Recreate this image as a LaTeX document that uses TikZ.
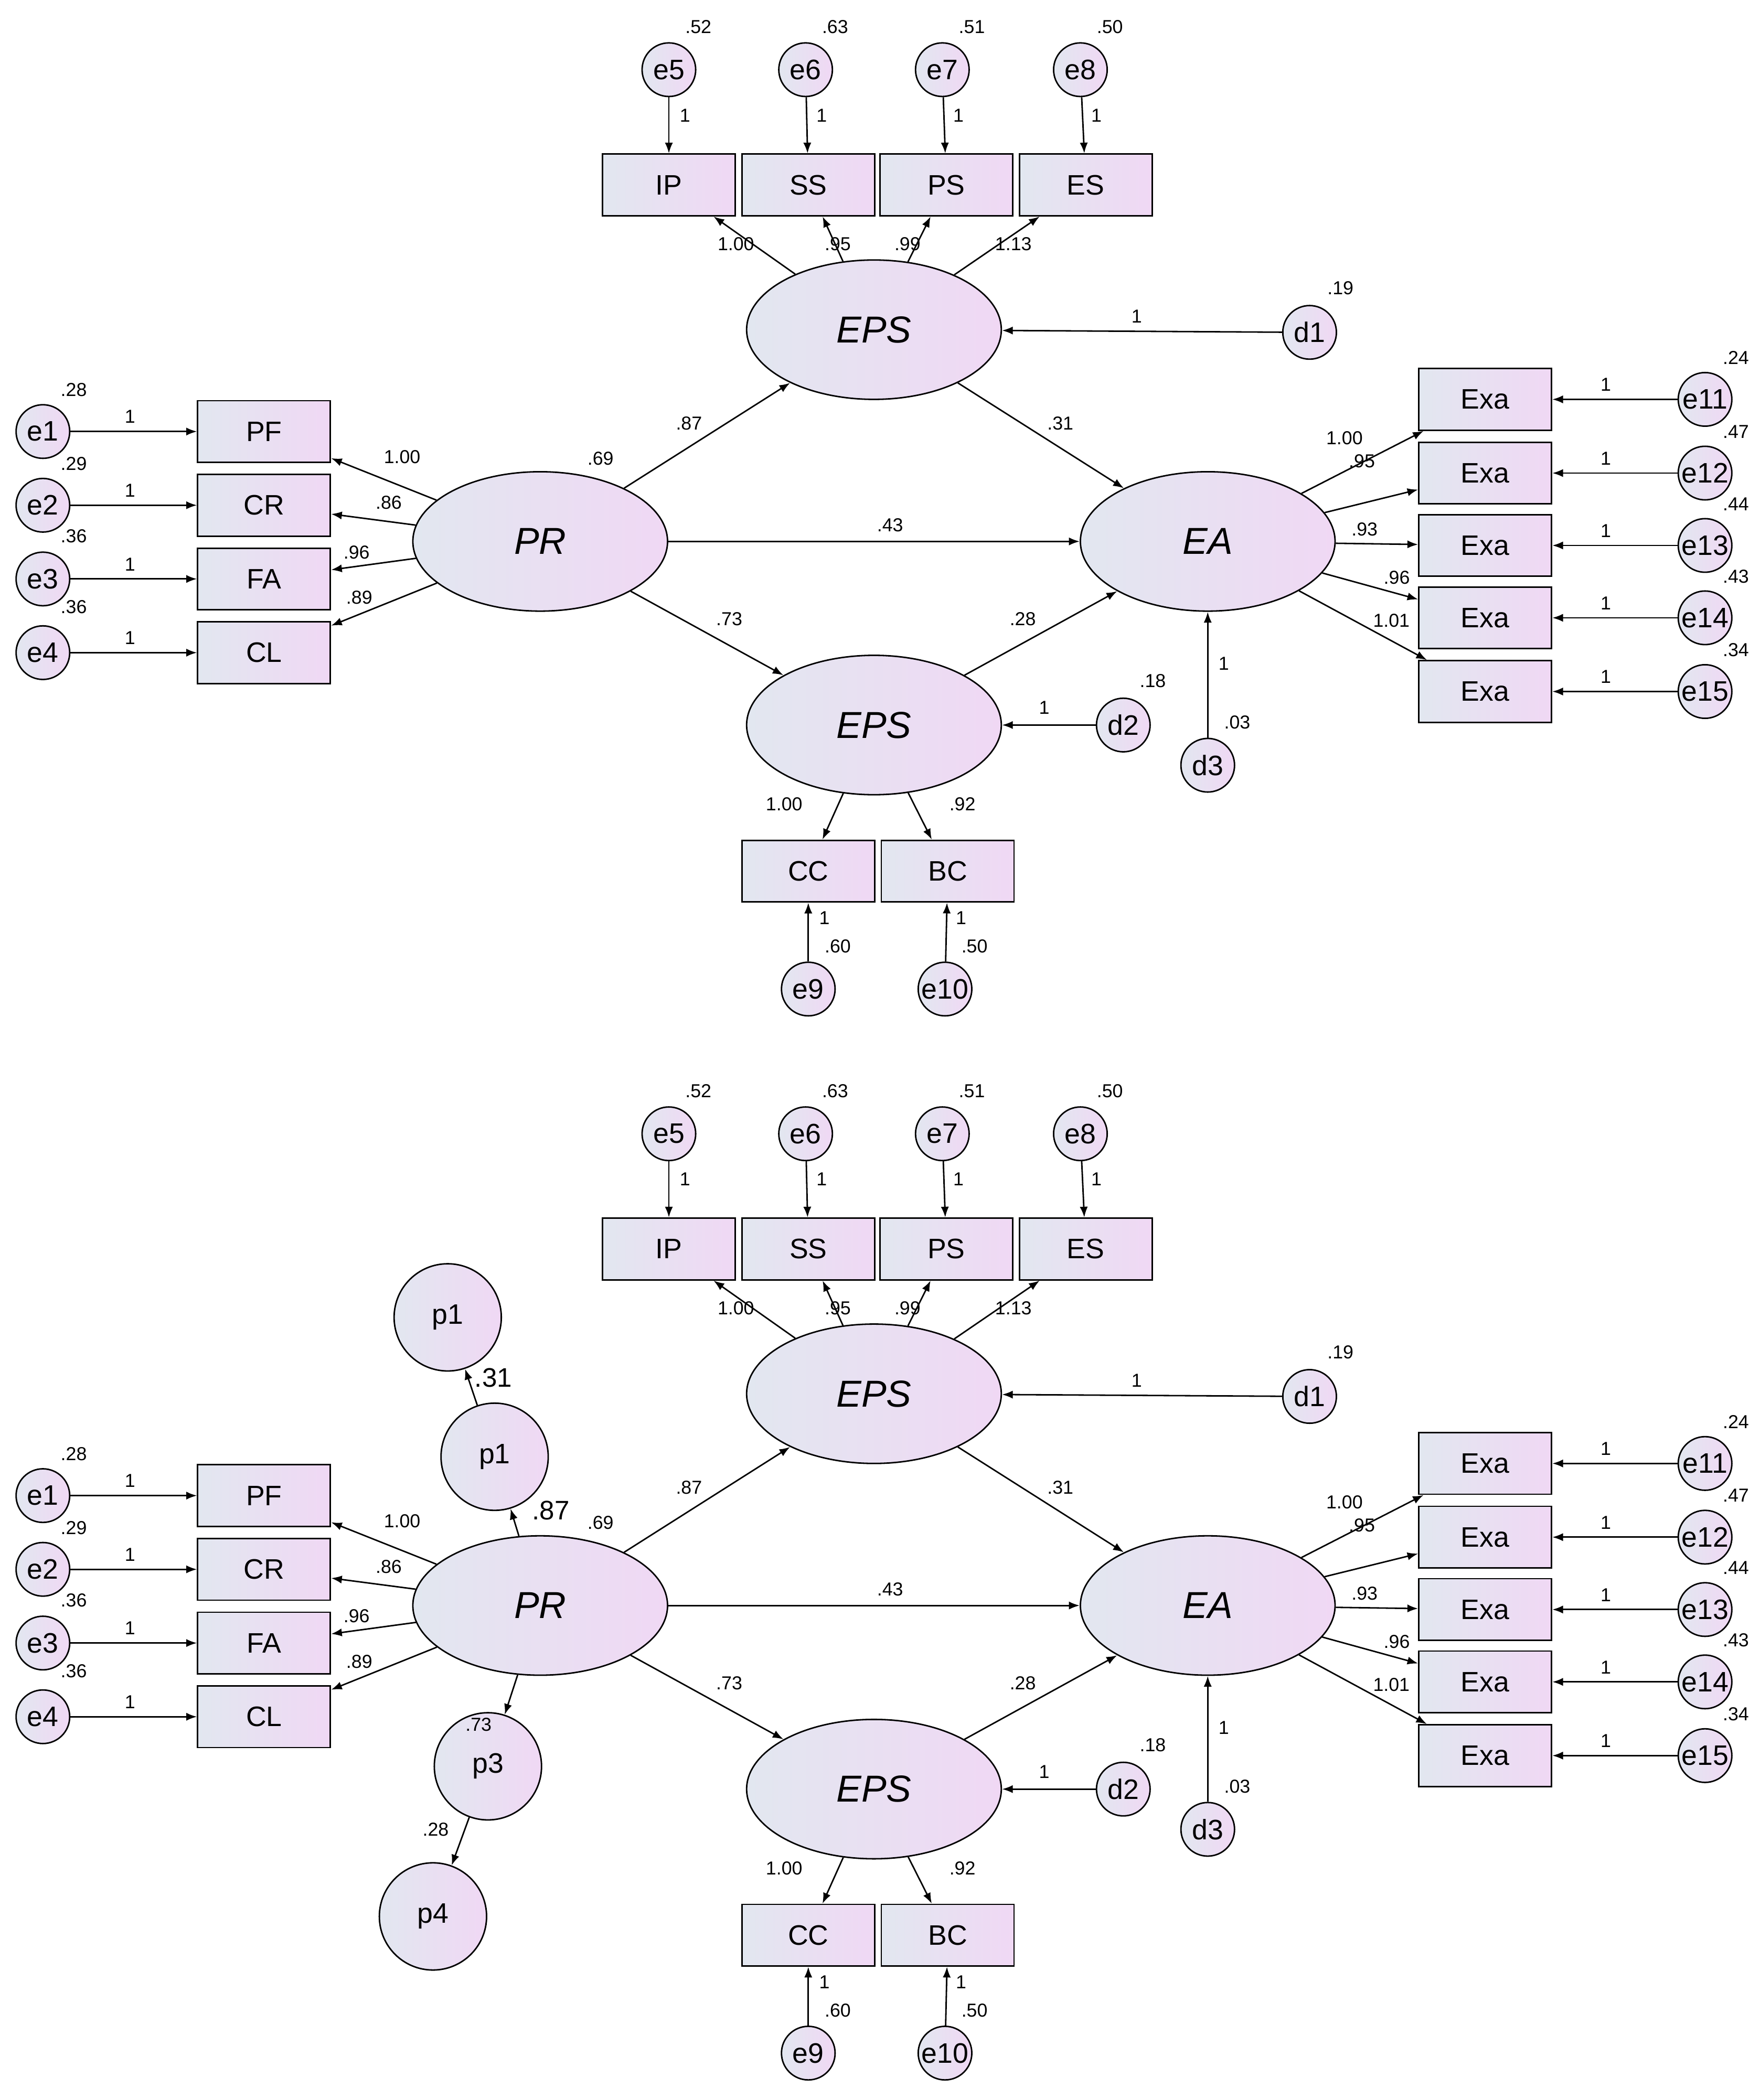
\documentclass[tikz,border=0pt]{standalone}
\usepackage{fontspec}
\setmainfont{Liberation Sans}
\usetikzlibrary{arrows.meta,shapes.geometric}
\definecolor{gl}{HTML}{E2E7F0}
\definecolor{gr}{HTML}{F0D8F4}
\tikzset{
 base/.style={draw=black,line width=1.1pt,left color=gl,right color=gr},
 err/.style={base,circle,minimum size=40pt,inner sep=0pt,font=\fontsize{21}{21}\selectfont},
 bigc/.style={base,circle,minimum size=80pt,inner sep=0pt,font=\fontsize{21}{21}\selectfont},
 box/.style={base,rectangle,minimum width=99pt,minimum height=46pt,inner sep=0pt,font=\fontsize{21}{21}\selectfont},
 lat/.style={base,ellipse,minimum width=190pt,minimum height=104pt,inner sep=0pt,font=\fontsize{28}{28}\selectfont\itshape},
 num/.style={font=\fontsize{14}{14}\selectfont,inner sep=0pt},
 bignum/.style={font=\fontsize{20}{20}\selectfont,inner sep=0pt},
 arr/.style={-{Latex[length=8pt,width=6pt]},line width=1.1pt},
}
\newcommand\semdiagram[1]{%
 % latent variables
 \node[lat] (#1EPSt) at (652,246) {EPS};
 \node[lat] (#1PR) at (403,404) {PR};
 \node[lat] (#1EA) at (901,404) {EA};
 \node[lat] (#1EPSb) at (652,541) {EPS};
 % top indicators
 \foreach \n/\x/\ex/\v/\l/\lx in {IP/499/499/.52/1.00/549, SS/603/601/.63/.95/625, PS/706/703/.51/.99/677, ES/810/806/.50/1.13/756}{
   \node[box] (#1\n) at (\x,138) {\n};
   \draw[arr] (#1EPSt) -- (#1\n);
   \node[num] at (\lx,182) {\l};
 }
 \node[err] (#1e5) at (499,52) {e5};
 \node[err] (#1e6) at (601,52) {e6};
 \node[err] (#1e7) at (703,52) {e7};
 \node[err] (#1e8) at (806,52) {e8};
 \draw[arr] (#1e5) -- (#1IP); \draw[arr] (#1e6) -- (#1SS);
 \draw[arr] (#1e7) -- (#1PS); \draw[arr] (#1e8) -- (#1ES);
 \foreach \x/\v in {499/.52,601/.63,703/.51,806/.50}{
   \node[num] at (\x+22,20) {\v};
   \node[num] at (\x+12,86) {1};
 }
 % d1
 \node[err] (#1d1) at (977,248) {d1};
 \draw[arr] (#1d1) -- (#1EPSt);
 \node[num] at (1000,215) {.19};
 \node[num] at (848,236) {1};
 % left indicators
 \node[box] (#1PF) at (197,322) {PF};
 \node[box] (#1CR) at (197,377) {CR};
 \node[box] (#1FA) at (197,432) {FA};
 \node[box] (#1CL) at (197,487) {CL};
 \node[err] (#1e1) at (32,322) {e1};
 \node[err] (#1e2) at (32,377) {e2};
 \node[err] (#1e3) at (32,432) {e3};
 \node[err] (#1e4) at (32,487) {e4};
 \draw[arr] (#1e1) -- (#1PF); \draw[arr] (#1e2) -- (#1CR);
 \draw[arr] (#1e3) -- (#1FA); \draw[arr] (#1e4) -- (#1CL);
 \draw[arr] (#1PR) -- (#1PF); \draw[arr] (#1PR) -- (#1CR);
 \draw[arr] (#1PR) -- (#1FA); \draw[arr] (#1PR) -- (#1CL);
 \node[num] at (55,291) {.28}; \node[num] at (55,346) {.29};
 \node[num] at (55,400) {.36}; \node[num] at (55,453) {.36};
 \foreach \y in {311,366,421,476}{\node[num] at (97,\y) {1};}
 \node[num] at (300,341) {1.00}; \node[num] at (290,375) {.86};
 \node[num] at (266,412) {.96}; \node[num] at (268,446) {.89};
 \node[num] at (448,342) {.69};
 % structural paths
 \draw[arr] (#1PR) -- (#1EPSt); \node[num] at (514,316) {.87};
 \draw[arr] (#1EPSt) -- (#1EA); \node[num] at (791,316) {.31};
 \draw[arr] (#1PR) -- (#1EA); \node[num] at (664,392) {.43};
 \draw[arr] (#1PR) -- (#1EPSb); \node[num] at (544,462) {.73};
 \draw[arr] (#1EPSb) -- (#1EA); \node[num] at (763,462) {.28};
 % right indicators
 \foreach \i/\y/\v/\l/\lx/\ly in {11/298/.24/1.00/1003/327, 12/353/.47/.95/1016/344, 13/407/.44/.93/1018/395, 14/461/.43/.96/1042/431, 15/516/.34/1.01/1038/463}{
   \node[box] (#1x\i) at (1108,\y) {Exa};
   \node[err] (#1e\i) at (1272,\y) {e\i};
   \draw[arr] (#1e\i) -- (#1x\i);
   \draw[arr] (#1EA) -- (#1x\i);
   \node[num] at (1295,\y-31) {\v};
   \node[num] at (1198,\y-11) {1};
   \node[num] at (\lx,\ly) {\l};
 }
 % d2, d3
 \node[err] (#1d2) at (838,541) {d2};
 \draw[arr] (#1d2) -- (#1EPSb);
 \node[num] at (860,508) {.18}; \node[num] at (779,528) {1};
 \node[err] (#1d3) at (901,571) {d3};
 \draw[arr] (#1d3) -- (#1EA);
 \node[num] at (923,539) {.03}; \node[num] at (913,495) {1};
 % bottom indicators
 \node[box] (#1CC) at (603,650) {CC};
 \node[box] (#1BC) at (707,650) {BC};
 \draw[arr] (#1EPSb) -- (#1CC); \draw[arr] (#1EPSb) -- (#1BC);
 \node[num] at (585,600) {1.00}; \node[num] at (718,600) {.92};
 \node[err] (#1e9) at (603,738) {e9};
 \node[err] (#1e10) at (705,738) {e10};
 \draw[arr] (#1e9) -- (#1CC); \draw[arr] (#1e10) -- (#1BC);
 \node[num] at (615,685) {1}; \node[num] at (717,685) {1};
 \node[num] at (625,706) {.60}; \node[num] at (727,706) {.50};
}
\begin{document}
\begin{tikzpicture}[x=1pt,y=-1pt]
\useasboundingbox (0,0) rectangle (1313,1567);
\semdiagram{a}
\begin{scope}[yshift=-794pt]
\semdiagram{b}
\node[bigc] (bp1a) at (334,189) {p1};
\node[bigc] (bp1b) at (369,293) {p1};
\node[bigc] (bp3) at (364,524) {p3};
\node[bigc] (bp4) at (323,636) {p4};
\draw[arr] (bp1b) -- (bp1a); \node[bignum] at (368,234) {.31};
\draw[arr] (bPR) -- (bp1b); \node[bignum] at (411,333) {.87};
\draw[arr] (bPR) -- (bp3); \node[num] at (357,493) {.73};
\draw[arr] (bp3) -- (bp4); \node[num] at (325,571) {.28};
\end{scope}
\end{tikzpicture}
\end{document}
